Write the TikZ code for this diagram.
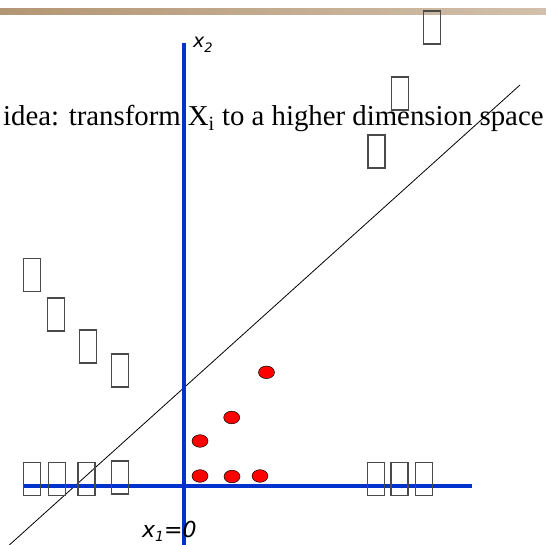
\documentclass[tikz,border=0pt]{standalone}
\usepackage{fontspec}
\setmainfont{Liberation Serif}
\newfontfamily\labfont[ItalicFont={DejaVu Sans Oblique}]{DejaVu Sans}
\usetikzlibrary{shapes.geometric}
\definecolor{axisblue}{HTML}{0033CC}
\definecolor{tofugray}{HTML}{4A4A4A}
\definecolor{barleft}{HTML}{B39673}
\definecolor{barright}{HTML}{D2C0AC}
\tikzset{
  tofu/.style={draw=tofugray, line width=1.5pt, rectangle, inner sep=0pt, minimum width=17pt, minimum height=33pt},
  dot/.style={ellipse, draw=black, line width=0.5pt, fill=red, inner sep=0pt, minimum width=16pt, minimum height=12.6pt},
  axisline/.style={draw=axisblue, line width=3.8pt},
  sepline/.style={draw=black, line width=0.8pt},
  lab/.style={inner sep=0pt, anchor=base west}
}
\begin{document}
\begin{tikzpicture}[x=1pt,y=-1pt]
\useasboundingbox (0,0) rectangle (546,545);
\clip (0,0) rectangle (546,545);
% top bar
\shade[left color=barleft, right color=barright] (0,9) rectangle (546,15);
% separating line
\coordinate (s1) at (6,548);
\coordinate (s2) at (520,85);
\draw[sepline] (s1) -- (s2);
% axes
\coordinate (vtop) at (184,43);
\coordinate (vbot) at (184,545);
\coordinate (hl) at (24,486);
\coordinate (hr) at (472,486);
\draw[axisline] (vtop) -- (vbot);
\draw[axisline] (hl) -- (hr);
% labels
\node[lab] (x2) at (193,48) {\labfont\fontsize{19pt}{22pt}\selectfont\itshape x\raisebox{-0.4ex}{\fontsize{13pt}{15pt}\selectfont 2}};
\node[lab] (x1) at (142,537) {\labfont\fontsize{22pt}{26pt}\selectfont\itshape x\raisebox{-0.35ex}{\fontsize{14pt}{16pt}\selectfont 1}=0};
\node[lab] (idea) at (3,126) {\fontsize{28.8pt}{32pt}\selectfont idea: transform X\textsubscript{i} to a higher dimension space};
% tofu boxes
\node[tofu] (t1) at (432,27.5) {};
\node[tofu] (t2) at (400,93.5) {};
\node[tofu] (t3) at (376.5,151.5) {};
\node[tofu] (t4) at (32,275) {};
\node[tofu] (t5) at (56,314.5) {};
\node[tofu] (t6) at (88,346.5) {};
\node[tofu] (t7) at (120,370.5) {};
\node[tofu] (b1) at (32,479) {};
\node[tofu] (b2) at (57,479) {};
\node[tofu] (b3) at (86.5,479) {};
\node[tofu] (b4) at (120,477.5) {};
\node[tofu] (b5) at (376,479) {};
\node[tofu] (b6) at (399.5,479) {};
\node[tofu] (b7) at (424,479) {};
% red dots
\node[dot] (d1) at (266.5,372.3) {};
\node[dot] (d2) at (231.7,417.5) {};
\node[dot] (d3) at (200,441) {};
\node[dot] (d4) at (200,476) {};
\node[dot] (d5) at (232,476.5) {};
\node[dot] (d6) at (260,476) {};
\end{tikzpicture}
\end{document}
